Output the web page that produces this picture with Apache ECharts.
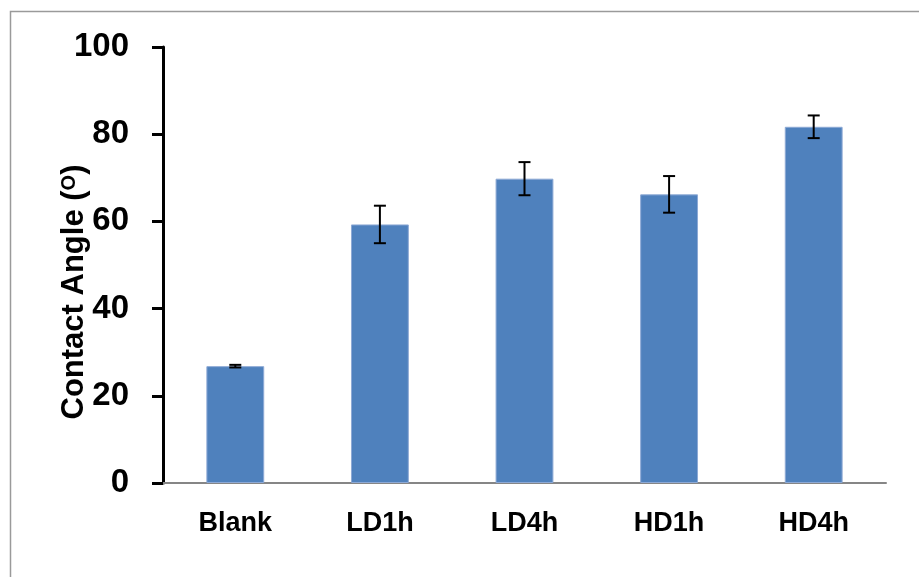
<!DOCTYPE html>
<html>
<head>
<meta charset="utf-8">
<script src="https://cdn.jsdelivr.net/npm/echarts@6/dist/echarts.min.js"></script>
<style>
html,body{margin:0;padding:0;background:#fff;}
#chart{width:919px;height:577px;}
</style>
</head>
<body>
<div id="chart"></div>
<script>
var categories = ['Blank', 'LD1h', 'LD4h', 'HD1h', 'HD4h'];
var values = [26.8, 59.3, 69.8, 66.2, 81.7];
var errors = [0.3, 4.3, 3.8, 4.2, 2.6];
var yTicks = [0, 20, 40, 60, 80, 100];

var chart = echarts.init(document.getElementById('chart'));
var errData = categories.map(function (c, i) { return [i, values[i] - errors[i], values[i] + errors[i]]; });

chart.setOption({
  animation: false,
  backgroundColor: '#fff',
  graphic: [{
    type: 'rect',
    shape: { x: 10.5, y: 11.5, width: 1000, height: 1000 },
    style: { fill: 'none', stroke: '#9a9a9a', lineWidth: 1.5 },
    silent: true
  }],
  grid: { left: 163, right: 33, top: 47, bottom: 94 },
  xAxis: {
    type: 'category',
    data: categories,
    axisLine: { lineStyle: { color: '#868686', width: 2 } },
    axisTick: { show: false },
    axisLabel: {
      color: '#000', fontFamily: 'Liberation Sans', fontWeight: 'bold', fontSize: 27, margin: 27
    }
  },
  yAxis: {
    type: 'value',
    min: yTicks[0],
    max: yTicks[yTicks.length - 1],
    interval: yTicks[1] - yTicks[0],
    splitLine: { show: false },
    axisLine: { show: true, lineStyle: { color: '#000', width: 3 } },
    axisTick: { show: true, length: 11, lineStyle: { color: '#000', width: 3 } },
    axisLabel: {
      color: '#000', fontFamily: 'Liberation Sans', fontWeight: 'bold', fontSize: 33, margin: 34
    },
    name: '{n|Contact Angle (}{s|O}{n|)}',
    nameLocation: 'middle',
    nameGap: 73,
    nameRotate: 90,
    nameMoveOverlap: false,
    nameTextStyle: {
      padding: [0, 54, 0, 0],
      rich: {
        n: { color: '#000', fontFamily: 'Liberation Sans', fontWeight: 'bold', fontSize: 31 },
        s: { color: '#000', fontFamily: 'Liberation Sans', fontWeight: 'bold', fontSize: 20, verticalAlign: 'top', padding: [0, 0, 8, 0] }
      }
    }
  },
  series: [{
    type: 'bar',
    data: values,
    barWidth: '40%',
    itemStyle: { color: '#4F81BD', borderColor: '#8DA9D5', borderWidth: 1 }
  }, {
    type: 'custom',
    data: errData,
    z: 10,
    renderItem: function (params, api) {
      var x = api.value(0);
      var lo = api.coord([x, api.value(1)]);
      var hi = api.coord([x, api.value(2)]);
      var hw = 6;
      var st = { stroke: '#000', lineWidth: 2 };
      return {
        type: 'group',
        children: [
          { type: 'line', shape: { x1: lo[0], y1: lo[1], x2: hi[0], y2: hi[1] }, style: st },
          { type: 'line', shape: { x1: lo[0] - hw, y1: lo[1], x2: lo[0] + hw, y2: lo[1] }, style: st },
          { type: 'line', shape: { x1: hi[0] - hw, y1: hi[1], x2: hi[0] + hw, y2: hi[1] }, style: st }
        ]
      };
    }
  }]
});
</script>
</body>
</html>
